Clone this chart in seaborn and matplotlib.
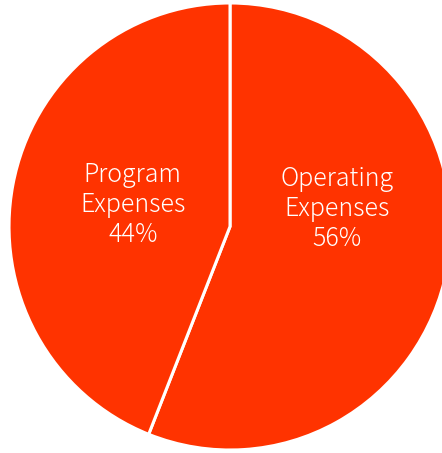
import numpy as np
import seaborn as sns
import matplotlib
matplotlib.use("Agg")
import matplotlib.pyplot as plt

# data
categories = ["Operating\nExpenses", "Program\nExpenses"]
shares = [56, 44]
colors = ["#FF3300", "#FF3300"]

sns.set_style("white")
plt.rcParams['font.family'] = ['Noto Sans CJK JP', 'DejaVu Sans']

fig = plt.figure(figsize=(4.42, 4.53), dpi=100)
ax = fig.add_axes([0.0204, 0.0066, 1.0, 0.9868])

wedges, _ = ax.pie(shares, colors=colors, startangle=90, counterclock=False,
                   radius=1.0, wedgeprops=dict(edgecolor="white", linewidth=2.2))
ax.set_xlim(-1, 1)
ax.set_ylim(-1, 1)
ax.set_aspect("auto")
ax.axis("off")

# label spots (data units), hand placed like the original
label_pos = [(0.485, 0.078), (-0.44, 0.097)]
for (x, y), cat, v in zip(label_pos, categories, shares):
    ax.text(x, y, f"{cat}\n{v}%", ha="center", va="center", color="white",
            fontsize=18, fontweight="light", linespacing=1.17)

fig.savefig("out.png", dpi=100)
